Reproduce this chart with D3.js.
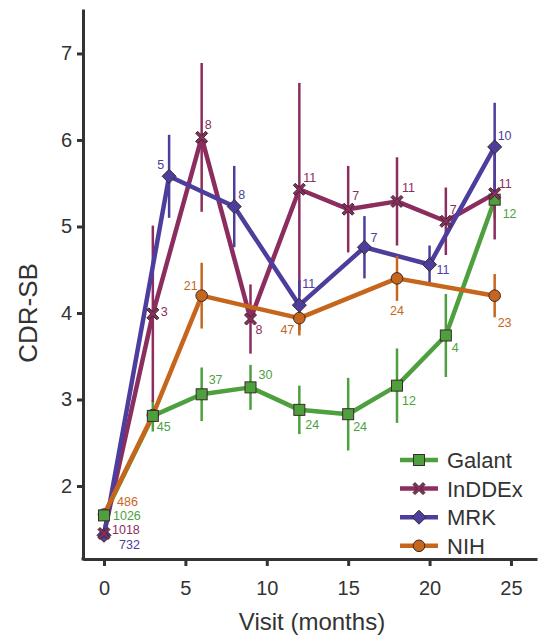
<!DOCTYPE html>
<html><head><meta charset="utf-8">
<script src="https://cdn.jsdelivr.net/npm/d3@7/dist/d3.min.js"></script>
<style>
html,body{margin:0;padding:0;background:#fff;}
svg{display:block;font-family:"Liberation Sans",Arial,Helvetica,sans-serif;}
</style></head>
<body>
<svg id="chart" width="542" height="635"></svg>
<script>
// ---- data ----
const seriesNames = ["Galant", "InDDEx", "MRK", "NIH"];
const xTicks = [0, 5, 10, 15, 20, 25];
const yTicks = [2, 3, 4, 5, 6, 7];

const galantMonths = [0, 3, 6, 9, 12, 15, 18, 21, 24];
const galantMean   = [1.66, 2.81, 3.06, 3.14, 2.88, 2.83, 3.16, 3.74, 5.31];
const galantErr    = [0.03, 0.18, 0.31, 0.26, 0.28, 0.42, 0.43, 0.48, 0.22];
const galantN      = ["1026", "45", "37", "30", "24", "24", "12", "4", "12"];

const inddexMonths = [0, 3, 6, 9, 12, 15, 18, 21, 24];
const inddexMean   = [1.45, 3.99, 6.03, 3.93, 5.43, 5.20, 5.29, 5.06, 5.38];
const inddexErr    = [0.03, 1.02, 0.86, 0.40, 1.23, 0.50, 0.51, 0.39, 0.53];
const inddexN      = ["1018", "3", "8", "8", "11", "7", "11", "7", "11"];

const mrkMonths = [0, 4, 8, 12, 16, 20, 24];
const mrkMean   = [1.43, 5.58, 5.23, 4.09, 4.76, 4.56, 5.92];
const mrkErr    = [0.03, 0.48, 0.47, 0.29, 0.36, 0.22, 0.51];
const mrkN      = ["732", "5", "8", "11", "7", "11", "10"];

const nihMonths = [0, 3, 6, 12, 18, 24];
const nihMean   = [1.67, 2.82, 4.20, 3.94, 4.40, 4.20];
const nihErr    = [0.03, 0.05, 0.38, 0.20, 0.26, 0.25];
const nihN      = ["486", "", "21", "47", "24", "23"];

// ---- layout / style (separate from data) ----
const colors = {Galant: "#4E9F3D", InDDEx: "#8C2D5F", MRK: "#4D3D9C", NIH: "#C6661D"};
const markers = {Galant: "square", InDDEx: "x", MRK: "diamond", NIH: "circle"};
// label offsets [dx, dy, anchor] relative to point centre
const labelOffsets = {
  Galant: [[9,5,"start"],[4,15,"start"],[7,-10,"start"],[8,-8,"start"],[6,19,"start"],[5,17,"start"],[5,19,"start"],[6,17,"start"],[8,18,"start"]],
  InDDEx: [[8,0,"start"],[8,2,"start"],[3,-8,"start"],[5,15,"start"],[4,-7,"start"],[4,-9,"start"],[5,-9,"start"],[4,-7,"start"],[4,-6,"start"]],
  MRK:    [[15,14,"start"],[-5,-7,"end"],[4,-8,"start"],[3,-17,"start"],[6,-5,"start"],[7,9,"start"],[3,-7,"start"]],
  NIH:    [[13,-9,"start"],[0,0,"start"],[-4,-6,"end"],[-5,16,"end"],[0,37,"middle"],[3,31,"start"]]
};

const seriesData = {
  Galant: {m: galantMonths, v: galantMean, e: galantErr, n: galantN},
  InDDEx: {m: inddexMonths, v: inddexMean, e: inddexErr, n: inddexN},
  MRK:    {m: mrkMonths, v: mrkMean, e: mrkErr, n: mrkN},
  NIH:    {m: nihMonths, v: nihMean, e: nihErr, n: nihN}
};

const svg = d3.select("#chart");
const x = d3.scaleLinear().domain([-1.29, 26.6]).range([83, 537]);
const y = d3.scaleLinear().domain([1.156, 7.514]).range([559, 9]);
const axisColor = "#333";

// axes
const gx = svg.append("g").attr("transform", "translate(0,559)")
  .call(d3.axisBottom(x).tickValues(xTicks).tickFormat(d3.format("d")).tickSize(7).tickPadding(15).tickSizeOuter(0));
const gy = svg.append("g").attr("transform", "translate(83,0)")
  .call(d3.axisLeft(y).tickValues(yTicks).tickFormat(d3.format("d")).tickSize(6).tickPadding(5).tickSizeOuter(0));
[gx, gy].forEach(g => {
  g.select(".domain").attr("stroke", axisColor).attr("stroke-width", 3);
  g.selectAll(".tick line").attr("stroke", axisColor).attr("stroke-width", 3);
  g.selectAll(".tick text").attr("fill", axisColor).attr("font-size", 20)
    .attr("font-family", "Liberation Sans, Arial, sans-serif");
});
svg.append("rect").attr("x", 81.5).attr("y", 557.5).attr("width", 3).attr("height", 3).attr("fill", axisColor);

svg.append("text").attr("transform", "translate(37,313) rotate(-90)")
  .attr("text-anchor", "middle").attr("font-size", 26).attr("fill", axisColor).text("CDR-SB");
svg.append("text").attr("x", 312).attr("y", 630)
  .attr("text-anchor", "middle").attr("font-size", 24).attr("fill", axisColor).text("Visit (months)");

// marker drawing
function drawMarker(g, type, cx, cy, color) {
  const stroke = "#3a2a2a";
  if (type === "square") {
    g.append("rect").attr("x", cx - 5.5).attr("y", cy - 5.5).attr("width", 11).attr("height", 11)
      .attr("fill", color).attr("stroke", stroke).attr("stroke-width", 1);
  } else if (type === "circle") {
    g.append("circle").attr("cx", cx).attr("cy", cy).attr("r", 5.8)
      .attr("fill", color).attr("stroke", stroke).attr("stroke-width", 1);
  } else if (type === "diamond") {
    const r = 7;
    g.append("path").attr("d", `M${cx},${cy - r}L${cx + r},${cy}L${cx},${cy + r}L${cx - r},${cy}Z`)
      .attr("fill", color).attr("stroke", stroke).attr("stroke-width", 1);
  } else if (type === "x") {
    const a = 6, t = 2;
    const pts = [[-a,-a+t],[-a+t,-a],[0,-t],[a-t,-a],[a,-a+t],[t,0],[a,a-t],[a-t,a],[0,t],[-a+t,a],[-a,a-t],[-t,0]];
    g.append("path").attr("d", "M" + pts.map(p => (cx + p[0]) + "," + (cy + p[1])).join("L") + "Z")
      .attr("fill", color).attr("stroke", stroke).attr("stroke-width", 1).attr("stroke-linejoin", "miter");
  }
}

const line = d3.line().x(d => x(d[0])).y(d => y(d[1]));
const plot = svg.append("g");
const lineOrder = ["Galant", "InDDEx", "MRK", "NIH"];
lineOrder.forEach(name => {
  const s = seriesData[name];
  const g = plot.append("g");
  s.m.forEach((m, i) => {
    g.append("line").attr("x1", x(m)).attr("x2", x(m))
      .attr("y1", y(s.v[i] - s.e[i])).attr("y2", y(s.v[i] + s.e[i]))
      .attr("stroke", colors[name]).attr("stroke-width", 2.5);
  });
  g.append("path").datum(s.m.map((m, i) => [m, s.v[i]])).attr("d", line)
    .attr("fill", "none").attr("stroke", colors[name]).attr("stroke-width", 4.5)
    .attr("stroke-linejoin", "round").attr("stroke-linecap", "round");
});
const markerOrder = ["MRK", "NIH", "Galant", "InDDEx"];
markerOrder.forEach(name => {
  const s = seriesData[name];
  const g = plot.append("g");
  s.m.forEach((m, i) => drawMarker(g, markers[name], x(m), y(s.v[i]), colors[name]));
});
lineOrder.forEach(name => {
  const s = seriesData[name];
  s.m.forEach((m, i) => {
    if (!s.n[i]) return;
    const o = labelOffsets[name][i];
    plot.append("text").attr("x", x(m) + o[0]).attr("y", y(s.v[i]) + o[1])
      .attr("text-anchor", o[2]).attr("font-size", 12.5).attr("fill", colors[name]).text(s.n[i]);
  });
});

// legend
const legend = svg.append("g");
seriesNames.forEach((name, i) => {
  const ry = 460 + i * 28.6;
  legend.append("line").attr("x1", 400).attr("x2", 438).attr("y1", ry).attr("y2", ry)
    .attr("stroke", colors[name]).attr("stroke-width", 4.5);
  drawMarker(legend, markers[name], 419, ry, colors[name]);
  legend.append("text").attr("x", 447).attr("y", ry + 8).attr("font-size", 22)
    .attr("fill", axisColor).text(name);
});
</script>
</body></html>
